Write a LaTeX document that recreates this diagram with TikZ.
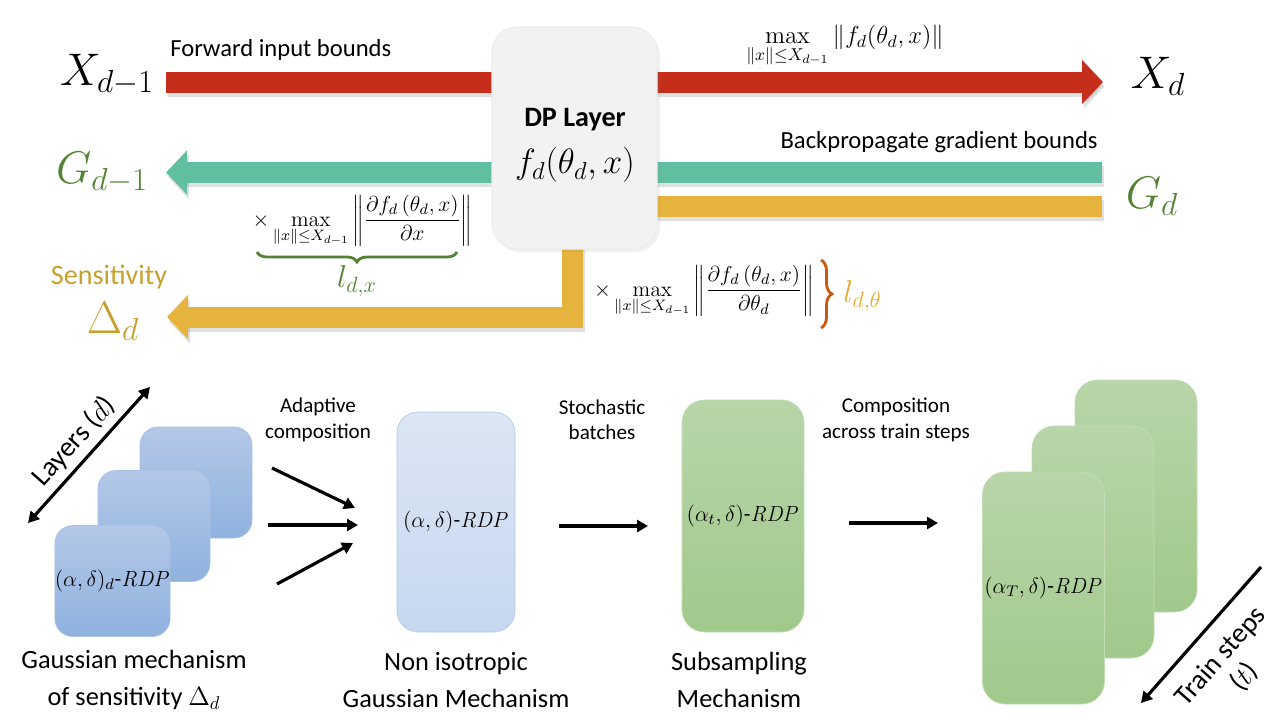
\RequirePackage{fix-cm}
\documentclass[tikz,border=0pt]{standalone}
\usepackage[no-math]{fontspec}
\setmainfont{Carlito}
\usepackage{amsmath}
\usetikzlibrary{calc}
\usetikzlibrary{arrows.meta}
\usetikzlibrary{decorations.pathreplacing}
\usetikzlibrary{shadows}
\definecolor{FwdRed}{HTML}{C42E1B}
\definecolor{GradTeal}{HTML}{60BFA0}
\definecolor{SensYellow}{HTML}{E6B43C}
\definecolor{GradGreen}{HTML}{548235}
\definecolor{SensGold}{HTML}{C9A02C}
\definecolor{ThetaGold}{HTML}{E2AC30}
\definecolor{BraceOrange}{HTML}{C55A11}
\definecolor{LayerGray}{HTML}{F2F2F2}
\definecolor{BlueTop}{HTML}{B4C8E8}
\definecolor{BlueBottom}{HTML}{8FB2DE}
\definecolor{BlueEdge}{HTML}{A9C2E6}
\definecolor{PaleTop}{HTML}{DCE6F4}
\definecolor{PaleBottom}{HTML}{C6D8EF}
\definecolor{PaleEdge}{HTML}{B4C8E8}
\definecolor{GreenTop}{HTML}{B8D5A9}
\definecolor{GreenBottom}{HTML}{A1C98B}
\definecolor{GreenEdge}{HTML}{C2DCB5}

\begin{document}
\begin{tikzpicture}
    \tikzstyle{boundbar}=[line width=0.42cm, line join=miter, -{Triangle[length=0.42cm,width=0.86cm]}]
    \tikzstyle{barshadow}=[boundbar, black, opacity=0.12, transform canvas={xshift=1pt,yshift=-2.5pt}]
    \tikzstyle{bigmath}=[font=\fontsize{26}{30}\selectfont, inner sep=0pt]
    \tikzstyle{boundlbl}=[font=\fontsize{14}{17}\selectfont, inner sep=0pt]
    \tikzstyle{bound}=[font=\fontsize{12.3}{14.5}\selectfont, inner sep=0pt]
    \tikzstyle{mech}=[font=\fontsize{15}{21.5}\selectfont, align=center, inner sep=0pt]
    \tikzstyle{steplbl}=[font=\fontsize{12}{14.5}\selectfont, align=center, inner sep=0pt]
    \tikzstyle{rdp}=[font=\fontsize{12.5}{15}\selectfont, inner sep=0pt]
    \tikzstyle{flow}=[line width=1.8pt, -{Triangle[length=0.22cm,width=0.24cm]}]
    \tikzstyle{dpbox}=[rounded corners=0.5cm, minimum width=3.3cm, minimum height=4.44cm, fill=LayerGray,
        draw=black!7, line width=0.6pt, drop shadow={opacity=0.12, shadow xshift=0.06cm, shadow yshift=-0.06cm}]
    \tikzstyle{bluebox}=[rounded corners=0.36cm, minimum width=2.24cm, minimum height=2.22cm,
        top color=BlueTop, bottom color=BlueBottom, draw=BlueEdge, line width=0.4pt]
    \tikzstyle{palebox}=[rounded corners=0.42cm, minimum width=2.36cm, minimum height=4.4cm,
        top color=PaleTop, bottom color=PaleBottom, draw=PaleEdge, line width=0.4pt]
    \tikzstyle{greenbox}=[rounded corners=0.45cm, minimum width=2.44cm, minimum height=4.64cm,
        top color=GreenTop, bottom color=GreenBottom, draw=GreenEdge, line width=0.4pt]

    \useasboundingbox (0,0) rectangle (25.6,-14.4);

    % bar end points
    \coordinate (fwd_in) at (3.32,-1.64);
    \coordinate (fwd_out) at (22.06,-1.64);
    \coordinate (grad_in) at (22.04,-3.45);
    \coordinate (grad_out) at (3.32,-3.45);
    \coordinate (sens_in) at (22.04,-4.12);
    \coordinate (sens_turn) at (11.45,-4.12);
    \coordinate (sens_down) at (11.45,-6.34);
    \coordinate (sens_out) at (3.34,-6.34);

    % soft shadows under the bars
    \draw[barshadow] (fwd_in) -- (fwd_out);
    \draw[barshadow] (grad_in) -- (grad_out);
    \draw[barshadow] (sens_in) -- (sens_turn) -- (sens_down) -- (sens_out);

    % forward input bounds
    \draw[boundbar,FwdRed] (fwd_in) -- (fwd_out);
    \node[bigmath] (x_prev) at (2.14,-1.5) {$X_{d-1}$};
    \node[bigmath] (x_next) at (23.16,-1.52) {$X_d$};
    \node[boundlbl,anchor=west] (fwd_lbl) at (3.4,-0.99) {Forward input bounds};
    \node[font=\fontsize{14}{16}\selectfont, inner sep=0pt] (x_max) at (16.9,-0.93)
        {$\displaystyle\max_{\|x\|\leq X_{d-1}}\|f_d(\theta_d,x)\|$};

    % backpropagated gradient bounds
    \draw[boundbar,GradTeal] (grad_in) -- (grad_out);
    \node[bigmath,text=GradGreen] (g_prev) at (2.04,-3.45) {$G_{d-1}$};
    \node[bigmath,text=GradGreen] (g_next) at (23.04,-3.92) {$G_d$};
    \node[boundlbl,anchor=east] (grad_lbl) at (21.96,-2.84) {Backpropagate gradient bounds};

    % sensitivity
    \draw[boundbar,SensYellow] (sens_in) -- (sens_turn) -- (sens_down) -- (sens_out);
    \node[font=\fontsize{16}{19}\selectfont, text=SensGold, inner sep=0pt] (sens_lbl) at (2.18,-5.54) {Sensitivity};
    \node[bigmath,text=SensGold] (delta) at (2.26,-6.42) {$\Delta_d$};

    % layer
    \node[dpbox] (layer) at (11.49,-2.76) {};
    \node[font=\fontsize{16}{19}\selectfont\bfseries, inner sep=0pt] (layer_name) at (11.5,-2.4) {DP Layer};
    \node[font=\fontsize{20}{24}\selectfont, inner sep=0pt] (layer_fn) at (11.5,-3.3) {$f_d(\theta_d,x)$};

    % lipschitz in x
    \node[bound] (lip_x) at (7.25,-4.42)
        {$\times\displaystyle\max_{\|x\|\leq X_{d-1}}\left\|\frac{\partial f_d\left(\theta_d,x\right)}{\partial x}\right\|$};
    \coordinate (brace_x_l) at (5.14,-5.04);
    \coordinate (brace_x_r) at (9.14,-5.04);
    \draw[GradGreen, line width=1.6pt, decorate, decoration={brace,mirror,amplitude=0.2cm}] (brace_x_l) -- (brace_x_r);
    \node[font=\fontsize{18}{20}\selectfont, text=GradGreen, inner sep=0pt] (l_x) at (7.14,-5.62) {$l_{d,x}$};

    % lipschitz in theta
    \node[bound] (lip_theta) at (14.08,-5.82)
        {$\times\displaystyle\max_{\|x\|\leq X_{d-1}}\left\|\frac{\partial f_d\left(\theta_d,x\right)}{\partial\theta_d}\right\|$};
    \coordinate (brace_t_top) at (16.42,-5.2);
    \coordinate (brace_t_bot) at (16.42,-6.56);
    \draw[BraceOrange, line width=1.6pt, decorate, decoration={brace,amplitude=0.22cm}] (brace_t_top) -- (brace_t_bot);
    \node[font=\fontsize{18}{20}\selectfont, text=ThetaGold, inner sep=0pt, anchor=west] (l_theta) at (16.86,-5.92) {$l_{d,\theta}$};

    % gaussian mechanism per layer
    \node[bluebox] (gm_3) at (3.92,-9.65) {};
    \node[bluebox] (gm_2) at (3.08,-10.52) {};
    \node[bluebox,rdp] (gm_1) at (2.25,-11.62) {$(\alpha,\delta)_d$-$\mathit{RDP}$};
    \coordinate (layers_lo) at (0.56,-10.46);
    \coordinate (layers_hi) at (3.0,-7.74);
    \draw[flow,{Triangle[length=0.22cm,width=0.24cm]}-{Triangle[length=0.22cm,width=0.24cm]}] (layers_lo) -- (layers_hi)
        node[midway, sloped, above, font=\fontsize{16}{19}\selectfont] (layers_lbl) {Layers ($d$)};
    \node[mech] (gm_lbl) at (2.68,-13.6) {Gaussian mechanism\\of sensitivity $\Delta_d$};

    % adaptive composition
    \node[steplbl] (adapt_lbl) at (6.36,-8.4) {Adaptive\\composition};
    \coordinate (adapt_a_s) at (5.44,-9.36);
    \coordinate (adapt_a_e) at (7.1,-10.16);
    \coordinate (adapt_b_s) at (5.36,-10.5);
    \coordinate (adapt_b_e) at (7.16,-10.5);
    \coordinate (adapt_c_s) at (5.54,-11.68);
    \coordinate (adapt_c_e) at (7.06,-10.86);
    \draw[flow] (adapt_a_s) -- (adapt_a_e);
    \draw[flow] (adapt_b_s) -- (adapt_b_e);
    \draw[flow] (adapt_c_s) -- (adapt_c_e);

    % non isotropic mechanism
    \node[palebox,rdp] (niso) at (9.12,-10.44) {$(\alpha,\delta)$-$\mathit{RDP}$};
    \node[mech] (niso_lbl) at (9.12,-13.6) {Non isotropic\\Gaussian Mechanism};

    % stochastic batches
    \node[steplbl] (batch_lbl) at (12.04,-8.4) {Stochastic\\batches};
    \coordinate (batch_s) at (11.18,-10.52);
    \coordinate (batch_e) at (12.96,-10.52);
    \draw[flow] (batch_s) -- (batch_e);

    % subsampling
    \node[greenbox,rdp] (subs) at (14.86,-10.32) {$(\alpha_t,\delta)$-$\mathit{RDP}$};
    \node[mech] (subs_lbl) at (14.78,-13.6) {Subsampling\\Mechanism};

    % composition over train steps
    \node[steplbl] (steps_lbl) at (17.92,-8.4) {Composition\\across train steps};
    \coordinate (steps_s) at (16.98,-10.46);
    \coordinate (steps_e) at (18.76,-10.46);
    \draw[flow] (steps_s) -- (steps_e);
    \node[greenbox] (comp_3) at (22.72,-9.92) {};
    \node[greenbox] (comp_2) at (21.86,-10.84) {};
    \node[greenbox,rdp] (comp_1) at (20.87,-11.76) {$(\alpha_T,\delta)$-$\mathit{RDP}$};
    \coordinate (train_hi) at (25.22,-11.34);
    \coordinate (train_lo) at (22.82,-14.06);
    \draw[flow] (train_hi) -- (train_lo);
    \node[font=\fontsize{16}{18}\selectfont, align=center, rotate=48.6, inner sep=0pt] (train_lbl) at (24.66,-13.34) {Train steps\\($t$)};

\end{tikzpicture}
\end{document}
